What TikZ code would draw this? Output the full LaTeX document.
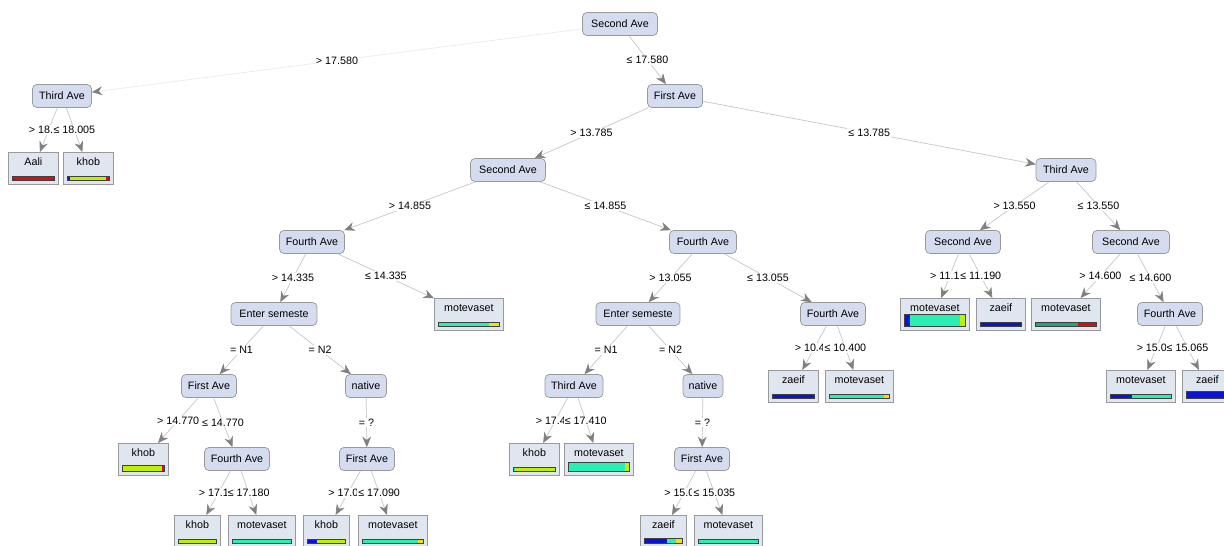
\documentclass[tikz,border=0pt]{standalone}
\usepackage{fontspec}
\setmainfont{Liberation Sans}
\usetikzlibrary{arrows.meta,calc}

\definecolor{splitfill}{RGB}{214,220,240}
\definecolor{leaffill}{RGB}{224,230,240}
\definecolor{cAali}{RGB}{220,10,20}
\definecolor{cKhob}{RGB}{190,240,0}
\definecolor{cMot}{RGB}{40,240,180}
\definecolor{cZaeif}{RGB}{10,20,210}
\definecolor{cYel}{RGB}{230,230,20}

% class distribution bar at the foot of a leaf: node, height (px), from/to/colour
\newcommand{\distbar}[3]{%
  \path (#1.south west) ++(4,-4) coordinate (bl)
        (#1.south east) ++(-4,-4-#2) coordinate (tr)
        (bl -| tr) coordinate (br) (tr -| bl) coordinate (tl);
  \foreach \from/\to/\col in {#3}
    \fill[\col] ($(bl)!\from!(br)$) rectangle ($(tl)!\to!(tr)$);
  \draw[black!75] (bl) rectangle (tr);
}

\begin{document}
\begin{tikzpicture}[x=0.02cm, y=-0.02cm, font=\fontsize{6.1}{7.3}\selectfont,
    split/.style={draw=black!40, rounded corners=2.5pt, fill=splitfill, minimum height=0.46cm, inner sep=1pt},
    leaf/.style={draw=black!40, fill=leaffill, anchor=north west, minimum height=0.64cm,
      inner xsep=1pt, inner ysep=0pt, text height=0.27cm, text depth=0.37cm},
    lbl/.style={fill=white, inner sep=0.6pt},
    cut/.style={lbl, anchor=west, xshift=-0.42cm},
    conn/.style={draw=black!22, -{Stealth[length=6pt, width=5pt, color=black!50]}}]

    \path[use as bounding box, fill=white] (0,0) rectangle (1224,546);

    % split nodes
    \node[split, minimum width=1.5cm] (root) at (620,24) {Second Ave};
    \node[split, minimum width=1.18cm] (thirdA) at (62,96) {Third Ave};
    \node[split, minimum width=1.1cm] (firstA) at (675,96) {First Ave};
    \node[split, minimum width=1.5cm] (secondA) at (508,170) {Second Ave};
    \node[split, minimum width=1.2cm] (thirdB) at (1066,170) {Third Ave};
    \node[split, minimum width=1.3cm] (fourthA) at (312,242) {Fourth Ave};
    \node[split, minimum width=1.34cm] (fourthB) at (703,242) {Fourth Ave};
    \node[split, minimum width=1.5cm] (secondB) at (963,242) {Second Ave};
    \node[split, minimum width=1.54cm] (secondC) at (1131,242) {Second Ave};
    \node[split, minimum width=1.72cm] (enterA) at (274,314) {Enter semeste};
    \node[split, minimum width=1.68cm] (enterB) at (638,314) {Enter semeste};
    \node[split, minimum width=1.3cm] (fourthC) at (833,314) {Fourth Ave};
    \node[split, minimum width=1.3cm] (fourthD) at (1170,314) {Fourth Ave};
    \node[split, minimum width=1.1cm] (firstB) at (209,386) {First Ave};
    \node[split, minimum width=0.82cm] (nativeA) at (366,386) {native};
    \node[split, minimum width=1.16cm] (thirdC) at (574,386) {Third Ave};
    \node[split, minimum width=0.8cm] (nativeB) at (703,386) {native};
    \node[split, minimum width=1.3cm] (fourthE) at (237,459) {Fourth Ave};
    \node[split, minimum width=1.1cm] (firstC) at (367,459) {First Ave};
    \node[split, minimum width=1.1cm] (firstD) at (702,459) {First Ave};

    % leaves
    \node[leaf, minimum width=1cm] (aali) at (8,152) {Aali};
    \node[leaf, minimum width=1cm] (khobA) at (63,152) {khob};
    \node[leaf, minimum width=1.38cm] (motA) at (434,298) {motevaset};
    \node[leaf, minimum width=1cm] (khobB) at (118,443) {khob};
    \node[leaf, minimum width=0.92cm] (khobC) at (174,515) {khob};
    \node[leaf, minimum width=1.34cm] (motB) at (228,515) {motevaset};
    \node[leaf, minimum width=0.92cm] (khobD) at (303,515) {khob};
    \node[leaf, minimum width=1.38cm] (motC) at (358,515) {motevaset};
    \node[leaf, minimum width=1cm] (khobE) at (509,443) {khob};
    \node[leaf, minimum width=1.38cm] (motD) at (564,443) {motevaset};
    \node[leaf, minimum width=0.92cm] (zaeifA) at (640,515) {zaeif};
    \node[leaf, minimum width=1.36cm] (motE) at (694,515) {motevaset};
    \node[leaf, minimum width=1cm] (zaeifB) at (768,370) {zaeif};
    \node[leaf, minimum width=1.36cm] (motF) at (825,370) {motevaset};
    \node[leaf, minimum width=1.38cm] (motG) at (900,298) {motevaset};
    \node[leaf, minimum width=0.98cm] (zaeifC) at (976,298) {zaeif};
    \node[leaf, minimum width=1.38cm] (motH) at (1031,298) {motevaset};
    \node[leaf, minimum width=1.38cm] (motI) at (1106,370) {motevaset};
    \node[leaf, minimum width=1cm] (zaeifD) at (1182,370) {zaeif};

    % bars
    \distbar{aali}{4}{0/1/cAali}
    \distbar{khobA}{4}{0/0.06/cZaeif, 0.06/0.92/cKhob, 0.92/1/cAali}
    \distbar{motA}{4}{0/0.82/cMot, 0.82/1/cYel}
    \distbar{khobB}{6}{0/0.93/cKhob, 0.93/1/cAali}
    \distbar{khobC}{4}{0/1/cKhob}
    \distbar{motB}{4}{0/1/cMot}
    \distbar{khobD}{4}{0/0.25/cZaeif, 0.25/1/cKhob}
    \distbar{motC}{4}{0/0.9/cMot, 0.9/1/cYel}
    \distbar{khobE}{4}{0/0.05/cMot, 0.05/1/cKhob}
    \distbar{motD}{9}{0/0.92/cMot, 0.92/1/cKhob}
    \distbar{zaeifA}{5}{0/0.6/cZaeif, 0.6/0.82/cMot, 0.82/1/cYel}
    \distbar{motE}{4}{0/1/cMot}
    \distbar{zaeifB}{4}{0/1/cZaeif}
    \distbar{motF}{4}{0/0.9/cMot, 0.9/1/cYel}
    \distbar{motG}{12}{0/0.1/cZaeif, 0.1/0.9/cMot, 0.9/1/cKhob}
    \distbar{zaeifC}{4}{0/1/cZaeif}
    \distbar{motH}{4}{0/0.7/cMot!70!black, 0.7/1/cAali}
    \distbar{motI}{4}{0/0.35/cZaeif, 0.35/1/cMot}
    \distbar{zaeifD}{7}{0/0.9/cZaeif, 0.9/1/cMot}

    % connectors
    \draw[conn, draw=black!8] (root) -- node[lbl] {> 17.580} (thirdA);
    \draw[conn] (root) -- node[lbl] {≤ 17.580} (firstA);
    \draw[conn] (thirdA) -- node[cut] {> 18.} (aali);
    \draw[conn] (thirdA) -- node[lbl] {≤ 18.005} (khobA);
    \draw[conn] (firstA) -- node[lbl] {> 13.785} (secondA);
    \draw[conn] (firstA) -- node[lbl] {≤ 13.785} (thirdB);
    \draw[conn] (secondA) -- node[lbl] {> 14.855} (fourthA);
    \draw[conn] (secondA) -- node[lbl] {≤ 14.855} (fourthB);
    \draw[conn] (thirdB) -- node[lbl] {> 13.550} (secondB);
    \draw[conn] (thirdB) -- node[lbl] {≤ 13.550} (secondC);
    \draw[conn] (fourthA) -- node[lbl] {> 14.335} (enterA);
    \draw[conn] (fourthA) -- node[lbl] {≤ 14.335} (motA);
    \draw[conn] (fourthB) -- node[lbl] {> 13.055} (enterB);
    \draw[conn] (fourthB) -- node[lbl] {≤ 13.055} (fourthC);
    \draw[conn] (secondB) -- node[cut] {> 11.1} (motG);
    \draw[conn] (secondB) -- node[lbl] {≤ 11.190} (zaeifC);
    \draw[conn] (secondC) -- node[lbl] {> 14.600} (motH);
    \draw[conn] (secondC) -- node[lbl] {≤ 14.600} (fourthD);
    \draw[conn] (enterA) -- node[lbl] {= N1} (firstB);
    \draw[conn] (enterA) -- node[lbl] {= N2} (nativeA);
    \draw[conn] (enterB) -- node[lbl] {= N1} (thirdC);
    \draw[conn] (enterB) -- node[lbl] {= N2} (nativeB);
    \draw[conn] (fourthC) -- node[cut] {> 10.4} (zaeifB);
    \draw[conn] (fourthC) -- node[lbl] {≤ 10.400} (motF);
    \draw[conn] (fourthD) -- node[cut] {> 15.0} (motI);
    \draw[conn] (fourthD) -- node[lbl] {≤ 15.065} (zaeifD);
    \draw[conn] (firstB) -- node[lbl] {> 14.770} (khobB);
    \draw[conn] (firstB) -- node[lbl] {≤ 14.770} (fourthE);
    \draw[conn] (nativeA) -- node[lbl] {= ?} (firstC);
    \draw[conn] (thirdC) -- node[cut] {> 17.4} (khobE);
    \draw[conn] (thirdC) -- node[lbl] {≤ 17.410} (motD);
    \draw[conn] (nativeB) -- node[lbl] {= ?} (firstD);
    \draw[conn] (fourthE) -- node[cut] {> 17.1} (khobC);
    \draw[conn] (fourthE) -- node[lbl] {≤ 17.180} (motB);
    \draw[conn] (firstC) -- node[cut] {> 17.0} (khobD);
    \draw[conn] (firstC) -- node[lbl] {≤ 17.090} (motC);
    \draw[conn] (firstD) -- node[cut] {> 15.0} (zaeifA);
    \draw[conn] (firstD) -- node[lbl] {≤ 15.035} (motE);

\end{tikzpicture}
\end{document}
